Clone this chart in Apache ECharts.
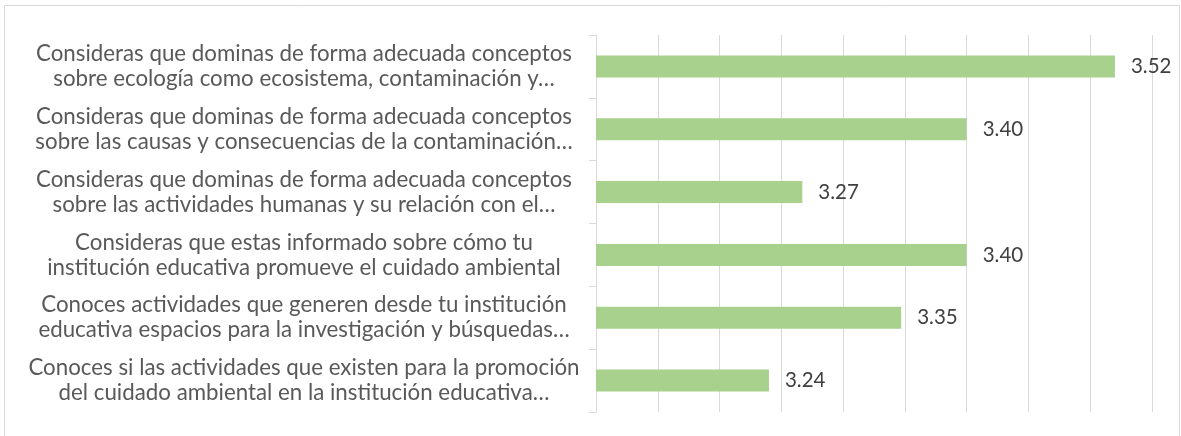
<!DOCTYPE html>
<html>
<head>
<meta charset="utf-8">
<script src="https://cdn.jsdelivr.net/npm/echarts@6/dist/echarts.min.js"></script>
<style>
html,body{margin:0;padding:0;background:#fff;}
#chart{width:1181px;height:436px;}
</style>
</head>
<body>
<div id="chart"></div>
<script>
const categories = [
  "Consideras que dominas de forma adecuada conceptos\nsobre ecología como ecosistema, contaminación y…",
  "Consideras que dominas de forma adecuada conceptos\nsobre las causas y consecuencias de la contaminación…",
  "Consideras que dominas de forma adecuada conceptos\nsobre las actividades humanas y su relación con el…",
  "Consideras que estas informado sobre cómo tu\ninstitución educativa promueve el cuidado ambiental",
  "Conoces actividades que generen desde tu institución\neducativa espacios para la investigación y búsquedas…",
  "Conoces si las actividades que existen para la promoción\ndel cuidado ambiental en la institución educativa…"
];
const values = [3.52, 3.40, 3.267, 3.40, 3.347, 3.24];
const axisMin = 3.1, axisMax = 3.55, axisStep = 0.05;

const chart = echarts.init(document.getElementById('chart'), null, {renderer: 'canvas'});
chart.setOption({
  animation: false,
  backgroundColor: '#ffffff',
  textStyle: {fontFamily: 'Lato'},
  grid: {left: 596, right: 29, top: 35, bottom: 24, containLabel: false},
  graphic: [{
    type: 'rect', silent: true,
    shape: {x: 4.5, y: 5.5, width: 1175, height: 440},
    style: {fill: 'none', stroke: '#d9d9d9', lineWidth: 1}
  }],
  xAxis: {
    type: 'value', min: axisMin, max: axisMax, interval: axisStep,
    axisLine: {show: false}, axisTick: {show: false}, axisLabel: {show: false},
    splitLine: {show: true, lineStyle: {color: '#d9d9d9', width: 1}}
  },
  yAxis: {
    type: 'category', data: categories, inverse: true,
    axisLine: {show: true, lineStyle: {color: '#d9d9d9', width: 1}},
    axisTick: {show: true, length: 7, lineStyle: {color: '#d9d9d9'}},
    axisLabel: {
      show: true, align: 'center', margin: 292,
      fontFamily: 'Lato', fontSize: 22.3, lineHeight: 25, color: '#595959'
    }
  },
  series: [{
    type: 'bar', data: values, barWidth: 22,
    itemStyle: {color: '#a9d18e'},
    label: {
      show: true, position: 'right', distance: 16,
      fontFamily: 'Lato', fontSize: 20.5, color: '#404040',
      formatter: p => p.value.toFixed(2)
    }
  }]
});
</script>
</body>
</html>
